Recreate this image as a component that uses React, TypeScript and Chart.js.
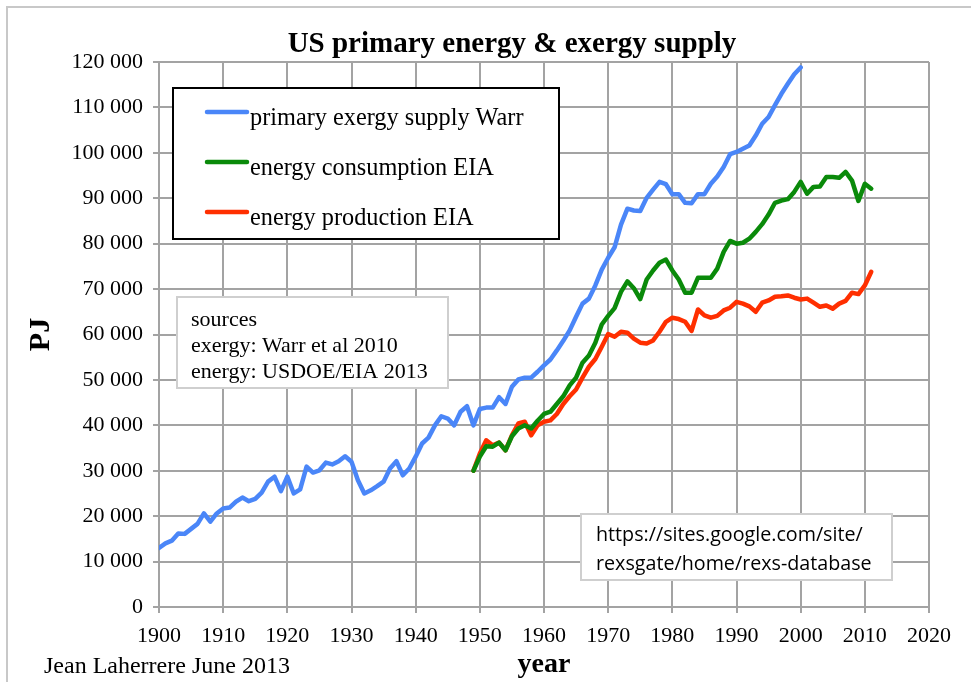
import React, { useEffect, useRef } from "react";
import { Chart, registerables } from "chart.js";

Chart.register(...registerables);

const EXERGY_START_YEAR = 1900;
const EIA_START_YEAR = 1949;

// primary exergy supply Warr, PJ, 1900-2000
const exergyWarr = [
  13000, 14000, 14600, 16200, 16100, 17200, 18300, 20600, 18800, 20600,
  21700, 21900, 23200, 24100, 23300, 23800, 25200, 27600, 28700, 25500,
  28700, 25000, 25900, 30900, 29600, 30100, 31800, 31400, 32100, 33200,
  32000, 27900, 25000, 25700, 26600, 27600, 30500, 32100, 29000, 30500,
  33100, 36000, 37300, 40000, 42000, 41500, 40000, 43000, 44200, 40000,
  43600, 43900, 43900, 46200, 44700, 48500, 50100, 50500, 50500, 51800,
  53200, 54500, 56500, 58600, 60900, 63900, 66800, 67900, 70800, 74300,
  76900, 79200, 84200, 87700, 87300, 87200, 90100, 91900, 93600, 93100,
  90900, 90900, 89000, 88900, 90900, 90900, 93200, 94800, 96900, 99700,
  100200, 100900, 101600, 103800, 106400, 107900, 110500, 113000, 115200, 117300,
  118800,
];

// energy consumption EIA, PJ, 1949-2011
const consumptionEIA = [
  30000,
  33100, 35400, 35300, 36200, 34500, 37600, 39300, 40000, 39300, 41000,
  42500, 43000, 44700, 46400, 48800, 50500, 53800, 55400, 58200, 62200,
  64100, 65800, 69400, 71700, 70200, 67800, 72100, 74100, 75800, 76500,
  74100, 72100, 69200, 69200, 72500, 72500, 72500, 74500, 78200, 80600,
  80000, 80200, 81100, 82600, 84300, 86400, 89000, 89500, 89800, 91400,
  93600, 91000, 92500, 92600, 94700, 94700, 94500, 95800, 93900, 89400,
  93200, 92100,
];

// energy production EIA, PJ, 1949-2011
const productionEIA = [
  30000,
  33800, 36700, 35600, 36200, 34500, 37800, 40400, 40800, 37800, 40000,
  40800, 41100, 42500, 44700, 46400, 47900, 50500, 52900, 54600, 57300,
  60100, 59500, 60600, 60400, 59100, 58200, 58000, 58700, 60600, 62800,
  63700, 63400, 62800, 60800, 65500, 64200, 63700, 64100, 65300, 65900,
  67200, 66800, 66200, 65000, 67000, 67500, 68300, 68400, 68600, 68100,
  67700, 67900, 67000, 66100, 66400, 65700, 66800, 67400, 69200, 68900,
  70800, 73800,
];

const seriesNames = [
  "primary exergy supply Warr",
  "energy consumption EIA",
  "energy production EIA",
];
const seriesColors = ["#4a86f8", "#0a8a0a", "#ff2f00"];

const titleText = "US primary energy & exergy supply";
const yTitle = "PJ";
const xTitle = "year";
const authorText = "Jean Laherrere June 2013";
const sourcesLines = ["sources", "exergy: Warr et al 2010", "energy: USDOE/EIA 2013"];
const urlLines = ["https://sites.google.com/site/", "rexsgate/home/rexs-database"];

const SERIF = "'Liberation Serif', 'Times New Roman', serif";
const SANS = "'Open Sans', 'Noto Sans', sans-serif";

function toPoints(start: number, values: number[]) {
  return values.map((v, i) => ({ x: start + i, y: v }));
}

function fmtThousands(v: number) {
  if (v === 0) return "0";
  return String(v).replace(/\B(?=(\d{3})+(?!\d))/g, " ");
}

const overlayPlugin = {
  id: "overlay",
  beforeDraw(chart: any) {
    const ctx = chart.ctx;
    ctx.save();
    ctx.fillStyle = "#ffffff";
    ctx.fillRect(0, 0, chart.width, chart.height);
    ctx.strokeStyle = "#c8c8c8";
    ctx.lineWidth = 2;
    ctx.strokeRect(7, 7, chart.width + 20, chart.height + 20);
    ctx.restore();
  },
  afterDraw(chart: any) {
    const ctx = chart.ctx;
    ctx.save();
    // title
    ctx.fillStyle = "#000000";
    ctx.font = `bold 29px ${SERIF}`;
    ctx.textAlign = "center";
    ctx.textBaseline = "alphabetic";
    ctx.fillText(titleText, 512, 52);

    // legend box
    ctx.textAlign = "left";
    ctx.fillStyle = "#ffffff";
    ctx.fillRect(173, 88, 386, 151);
    ctx.strokeStyle = "#000000";
    ctx.lineWidth = 2;
    ctx.strokeRect(173, 88, 386, 151);
    const rows = [112, 162, 212];
    chart.data.datasets.forEach((ds: any, i: number) => {
      ctx.strokeStyle = ds.borderColor;
      ctx.lineWidth = 4.5;
      ctx.lineCap = "round";
      ctx.beginPath();
      ctx.moveTo(207, rows[i]);
      ctx.lineTo(247, rows[i]);
      ctx.stroke();
      ctx.fillStyle = "#000000";
      ctx.font = `24.3px ${SERIF}`;
      ctx.textBaseline = "alphabetic";
      ctx.textAlign = "left";
      ctx.fillText(ds.label, 250, rows[i] + 13);
    });

    // sources box
    ctx.fillStyle = "#ffffff";
    ctx.fillRect(177, 297, 271, 91);
    ctx.strokeStyle = "#cfcfcf";
    ctx.lineWidth = 2;
    ctx.strokeRect(177, 297, 271, 91);
    ctx.fillStyle = "#000000";
    ctx.font = `22px ${SERIF}`;
    ctx.textAlign = "left";
    ctx.textBaseline = "alphabetic";
    [326, 352, 378].forEach((y, i) => ctx.fillText(sourcesLines[i], 191, y));

    // url box
    ctx.fillStyle = "#ffffff";
    ctx.fillRect(581, 514, 311, 66);
    ctx.strokeStyle = "#cfcfcf";
    ctx.lineWidth = 2;
    ctx.strokeRect(581, 514, 311, 66);
    ctx.fillStyle = "#000000";
    ctx.font = `19.7px ${SANS}`;
    [541, 570].forEach((y, i) => ctx.fillText(urlLines[i], 596, y));

    // author
    ctx.font = `24px ${SERIF}`;
    ctx.textBaseline = "alphabetic";
    ctx.fillText(authorText, 44, 673);
    ctx.restore();
  },
};

export default function App() {
  const ref = useRef<HTMLCanvasElement | null>(null);

  useEffect(() => {
    if (!ref.current) return;
    const gridColor = "#a3a3a3";
    const chart = new Chart(ref.current, {
      type: "line",
      data: {
        datasets: [
          {
            label: seriesNames[0],
            data: toPoints(EXERGY_START_YEAR, exergyWarr),
            borderColor: seriesColors[0],
            backgroundColor: seriesColors[0],
          },
          {
            label: seriesNames[1],
            data: toPoints(EIA_START_YEAR, consumptionEIA),
            borderColor: seriesColors[1],
            backgroundColor: seriesColors[1],
          },
          {
            label: seriesNames[2],
            data: toPoints(EIA_START_YEAR, productionEIA),
            borderColor: seriesColors[2],
            backgroundColor: seriesColors[2],
          },
        ].map((d) => ({
          ...d,
          borderWidth: 4.5,
          pointRadius: 0,
          tension: 0,
          fill: false,
          borderJoinStyle: "round" as const,
          borderCapStyle: "round" as const,
        })),
      },
      options: {
        animation: false,
        responsive: false,
        devicePixelRatio: 1,
        layout: { padding: { left: 0, right: 42, top: 62, bottom: 0 } },
        plugins: {
          legend: { display: false },
          tooltip: { enabled: false },
          title: { display: false },
        },
        scales: {
          x: {
            type: "linear",
            min: 1900,
            max: 2020,
            afterFit: (s: any) => {
              s.height = 75;
            },
            ticks: {
              stepSize: 10,
              autoSkip: false,
              maxRotation: 0,
              padding: 10,
              color: "#000000",
              font: { family: SERIF, size: 22 },
              callback: (v: any) => String(v),
            },
            grid: { color: gridColor, lineWidth: 2, tickLength: 6, drawTicks: true },
            border: { color: gridColor, width: 2 },
            title: {
              display: true,
              text: xTitle,
              color: "#000000",
              font: { family: SERIF, size: 28, weight: "bold", lineHeight: 1.2 },
              padding: { top: 0, bottom: 0 },
            },
          },
          y: {
            type: "linear",
            min: 0,
            max: 120000,
            afterFit: (s: any) => {
              s.width = 159;
            },
            ticks: {
              stepSize: 10000,
              padding: 10,
              color: "#000000",
              font: { family: SERIF, size: 22 },
              callback: (v: any) => fmtThousands(Number(v)),
            },
            grid: { color: gridColor, lineWidth: 2, tickLength: 6, drawTicks: true },
            border: { color: gridColor, width: 2 },
            title: {
              display: true,
              text: yTitle,
              color: "#000000",
              font: { family: SERIF, size: 30, weight: "bold", lineHeight: 1.2 },
              padding: { top: 23, bottom: 0 },
            },
          },
        },
      },
      plugins: [overlayPlugin],
    });
    return () => chart.destroy();
  }, []);

  return (
    <div style={{ position: "absolute", left: 0, top: 0, width: 971, height: 682 }}>
      <canvas ref={ref} width={971} height={682} style={{ width: 971, height: 682, display: "block" }} />
    </div>
  );
}
